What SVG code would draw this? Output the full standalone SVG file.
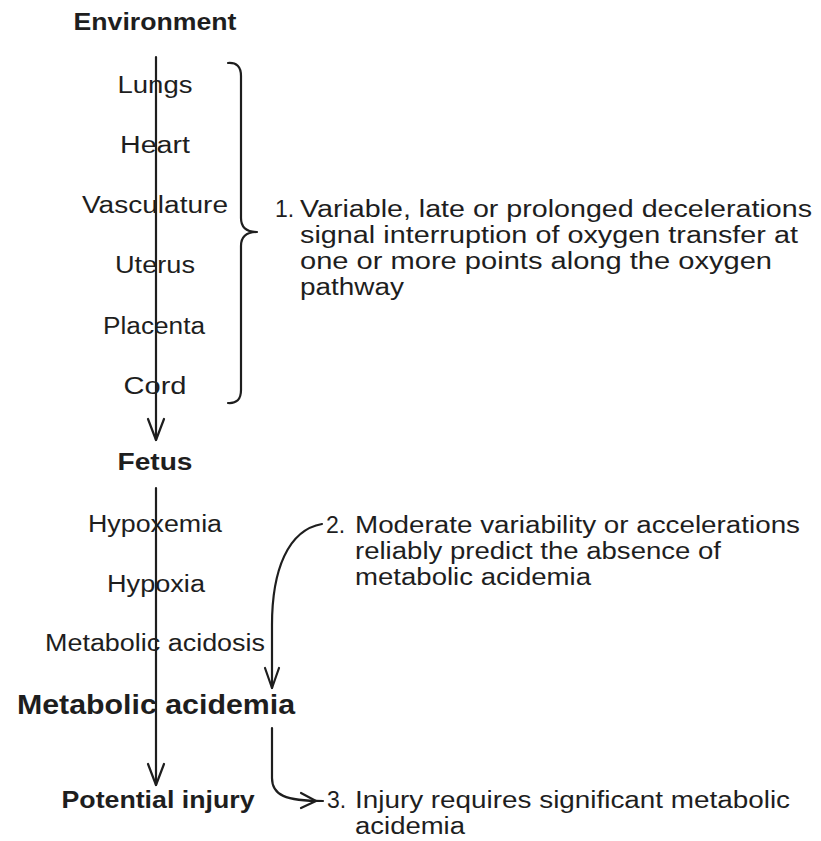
<svg xmlns="http://www.w3.org/2000/svg" width="821" height="841" viewBox="0 0 821 841">
<style>
text{font-family:"Liberation Sans",Arial,Helvetica,sans-serif;fill:#1e1e1e}
.lab{font-size:23px;text-anchor:middle}
.hd{font-size:23px;font-weight:bold;text-anchor:middle}
.big{font-size:28px;font-weight:bold;text-anchor:middle}
.note{font-size:23px}
.ln{fill:none;stroke:#1e1e1e;stroke-width:2.2;stroke-linecap:round;stroke-linejoin:round}
</style>
<rect width="821" height="841" fill="#fff"/>
<g id="connectors">
<path class="ln" d="M156 57 L156 440"/>
<path class="ln" d="M148 419 L156 440 L164 419"/>
<path class="ln" d="M156 488 L156 785"/>
<path class="ln" d="M148 764 L156 785 L164 764"/>
<path id="brace" class="ln" d="M228 63 Q241 62 241 76 L241 218 Q241 232 257 232 Q241 232 241 246 L241 390 Q241 404 228 403"/>
<path class="ln" d="M322 524 C288 530 272 570 272 625 L272 688"/>
<path class="ln" d="M265 668 L272 688 L279 668"/>
<path class="ln" d="M272 728 L272 778 C272 795 285 801 323 801"/>
<path class="ln" d="M301 793 L316 801 L301 808"/>
</g>
<g id="environment"><text class="hd" x="155" y="30" textLength="163" lengthAdjust="spacingAndGlyphs">Environment</text></g>
<g id="lungs"><text class="lab" x="155" y="93" textLength="75" lengthAdjust="spacingAndGlyphs">Lungs</text></g>
<g id="heart"><text class="lab" x="155" y="153" textLength="70" lengthAdjust="spacingAndGlyphs">Heart</text></g>
<g id="vasculature"><text class="lab" x="155" y="213" textLength="146" lengthAdjust="spacingAndGlyphs">Vasculature</text></g>
<g id="uterus"><text class="lab" x="155" y="273" textLength="80" lengthAdjust="spacingAndGlyphs">Uterus</text></g>
<g id="placenta"><text class="lab" x="154" y="334" textLength="102" lengthAdjust="spacingAndGlyphs">Placenta</text></g>
<g id="cord"><text class="lab" x="155" y="394" textLength="63" lengthAdjust="spacingAndGlyphs">Cord</text></g>
<g id="fetus"><text class="hd" x="155" y="470" textLength="75" lengthAdjust="spacingAndGlyphs">Fetus</text></g>
<g id="hypoxemia"><text class="lab" x="155" y="532" textLength="134" lengthAdjust="spacingAndGlyphs">Hypoxemia</text></g>
<g id="hypoxia"><text class="lab" x="156" y="592" textLength="98" lengthAdjust="spacingAndGlyphs">Hypoxia</text></g>
<g id="acidosis"><text class="lab" x="155" y="651" textLength="220" lengthAdjust="spacingAndGlyphs">Metabolic acidosis</text></g>
<g id="acidemia"><text class="big" x="156" y="714" textLength="278" lengthAdjust="spacingAndGlyphs">Metabolic acidemia</text></g>
<g id="injury"><text class="hd" x="158" y="808" textLength="193" lengthAdjust="spacingAndGlyphs">Potential injury</text></g>
<g id="note1">
<text class="note" x="275" y="217">1.</text>
<text class="note" x="300" y="217" textLength="512" lengthAdjust="spacingAndGlyphs">Variable, late or prolonged decelerations</text>
<text class="note" x="300" y="243" textLength="498" lengthAdjust="spacingAndGlyphs">signal interruption of oxygen transfer at</text>
<text class="note" x="300" y="269" textLength="472" lengthAdjust="spacingAndGlyphs">one or more points along the oxygen</text>
<text class="note" x="300" y="295" textLength="104" lengthAdjust="spacingAndGlyphs">pathway</text>
</g>
<g id="note2">
<text class="note" x="326" y="533">2.</text>
<text class="note" x="355" y="533" textLength="445" lengthAdjust="spacingAndGlyphs">Moderate variability or accelerations</text>
<text class="note" x="355" y="559" textLength="366" lengthAdjust="spacingAndGlyphs">reliably predict the absence of</text>
<text class="note" x="355" y="585" textLength="236" lengthAdjust="spacingAndGlyphs">metabolic acidemia</text>
</g>
<g id="note3">
<text class="note" x="327" y="808">3.</text>
<text class="note" x="355" y="808" textLength="435" lengthAdjust="spacingAndGlyphs">Injury requires significant metabolic</text>
<text class="note" x="355" y="834" textLength="110" lengthAdjust="spacingAndGlyphs">acidemia</text>
</g>
</svg>
